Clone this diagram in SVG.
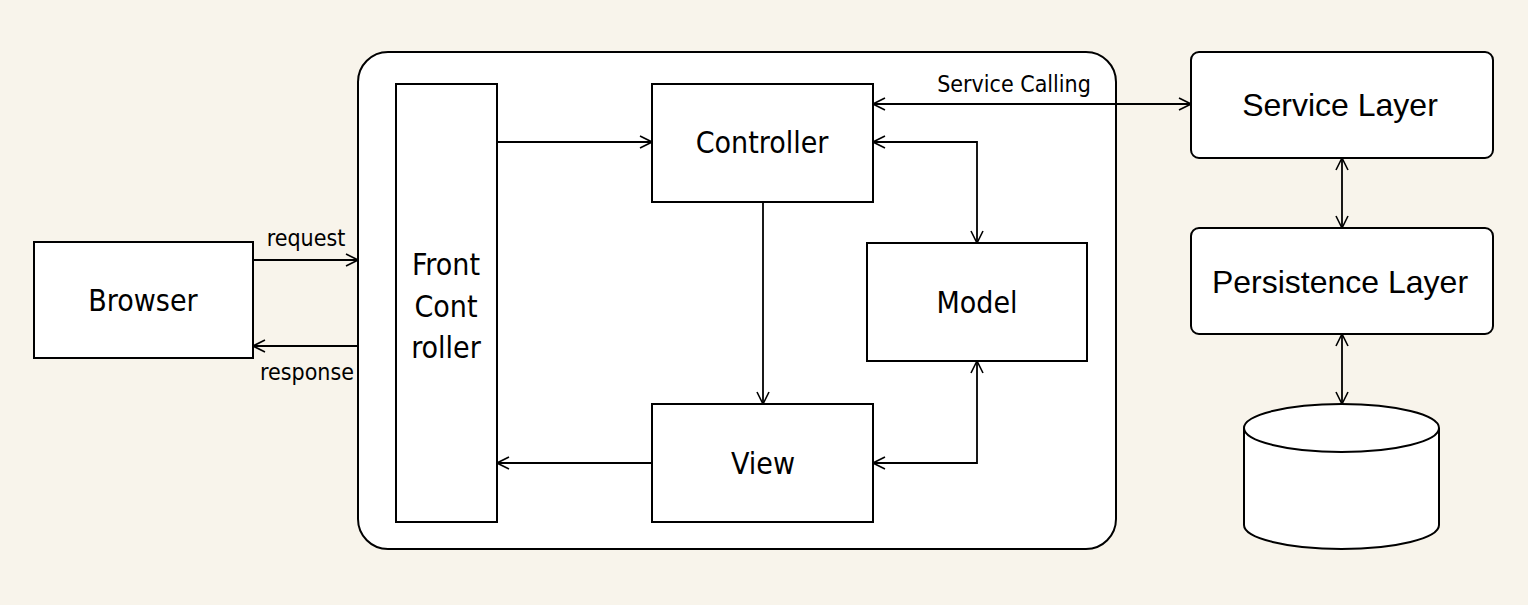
<svg xmlns="http://www.w3.org/2000/svg" width="1528" height="605" viewBox="0 0 1528 605">
<defs>
<marker id="arr" viewBox="0 0 14 14" refX="13" refY="7" markerWidth="14" markerHeight="14" markerUnits="userSpaceOnUse" orient="auto-start-reverse">
<path d="M1,1 L13,7 L1,13" fill="none" stroke="#000" stroke-width="1.6"/>
</marker>
<style>
.box{fill:#fff;stroke:#000;stroke-width:2}
.lbl{font-family:"DejaVu Sans",Verdana,sans-serif;font-stretch:condensed;font-size:30px;fill:#000;text-anchor:middle}
.sm{font-family:"DejaVu Sans",Verdana,sans-serif;font-stretch:condensed;font-size:23px;fill:#000;text-anchor:middle}
.ar{font-family:"Liberation Sans",Arial,sans-serif;font-size:32px;fill:#000;text-anchor:middle}
.c{fill:none;stroke:#000;stroke-width:1.8}
</style>
</defs>
<rect width="1528" height="605" fill="#f8f4eb"/>
<g id="container"><rect x="358" y="52" width="758" height="497" rx="30" class="box"/></g>
<g id="browser"><rect x="34" y="242" width="219" height="116" class="box"/><text x="143" y="311" class="lbl">Browser</text></g>
<g id="front-controller"><rect x="396" y="84" width="101" height="438" class="box"/>
<text x="446" y="275" class="lbl">Front</text><text x="446" y="317" class="lbl">Cont</text><text x="446" y="358" class="lbl">roller</text></g>
<g id="controller"><rect x="652" y="84" width="221" height="118" class="box"/><text x="762" y="153" class="lbl">Controller</text></g>
<g id="model"><rect x="867" y="243" width="220" height="118" class="box"/><text x="977" y="313" class="lbl">Model</text></g>
<g id="view"><rect x="652" y="404" width="221" height="118" class="box"/><text x="763" y="474" class="lbl">View</text></g>
<g id="service-layer"><rect x="1191" y="52" width="302" height="106" rx="8" class="box"/><text x="1340" y="116" class="ar">Service Layer</text></g>
<g id="persistence-layer"><rect x="1191" y="228" width="302" height="106" rx="8" class="box"/><text x="1340" y="293" class="ar">Persistence Layer</text></g>
<g id="database"><path d="M1244,428 L1244,525 A97.5,24 0 0 0 1439,525 L1439,428" class="box"/><ellipse cx="1341.5" cy="428" rx="97.5" ry="24" class="box"/></g>
<g id="connectors">
<line x1="253" y1="260" x2="358" y2="260" class="c" marker-end="url(#arr)"/>
<line x1="358" y1="346" x2="253" y2="346" class="c" marker-end="url(#arr)"/>
<line x1="497" y1="142" x2="652" y2="142" class="c" marker-end="url(#arr)"/>
<line x1="873" y1="104" x2="1191" y2="104" class="c" marker-start="url(#arr)" marker-end="url(#arr)"/>
<polyline points="873,142 977,142 977,243" class="c" marker-start="url(#arr)" marker-end="url(#arr)"/>
<line x1="763" y1="202" x2="763" y2="404" class="c" marker-end="url(#arr)"/>
<line x1="652" y1="463" x2="497" y2="463" class="c" marker-end="url(#arr)"/>
<polyline points="977,361 977,463 873,463" class="c" marker-start="url(#arr)" marker-end="url(#arr)"/>
<line x1="1342" y1="158" x2="1342" y2="228" class="c" marker-start="url(#arr)" marker-end="url(#arr)"/>
<line x1="1342" y1="334" x2="1342" y2="404" class="c" marker-start="url(#arr)" marker-end="url(#arr)"/>
<text x="306" y="246" class="sm">request</text>
<text x="307" y="380" class="sm">response</text>
<text x="1014" y="92" class="sm">Service Calling</text>
</g>
</svg>
